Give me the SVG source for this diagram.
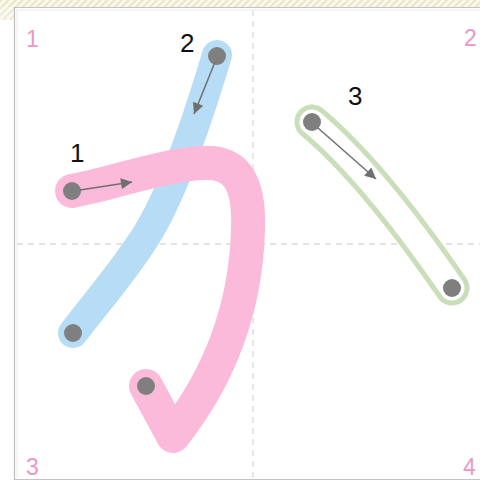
<svg xmlns="http://www.w3.org/2000/svg" width="480" height="481" viewBox="0 0 480 481">
<defs>
<pattern id="stripes" width="5" height="5" patternUnits="userSpaceOnUse" patternTransform="rotate(45)">
<rect width="5" height="5" fill="#fbfaf0"/>
<rect width="2.2" height="5" fill="#e9e6c8"/>
</pattern>
<marker id="ah" viewBox="0 0 10 10" refX="10" refY="5" markerWidth="17" markerHeight="11" markerUnits="userSpaceOnUse" orient="auto">
<path d="M0,0 L10,5 L0,10 z" fill="#6f6f6f"/>
</marker>
<style>
.grid{stroke:#dadada;stroke-width:1.3;stroke-dasharray:6 5;fill:none}
.corner{font-family:"Liberation Sans",Arial,sans-serif;font-size:23px;fill:#ea97c7}
.num{font-family:"Liberation Sans",Arial,sans-serif;font-size:26px;fill:#111}
.dot{fill:#7f7f7f}
.arrow{stroke:#6f6f6f;stroke-width:1.5;fill:none;marker-end:url(#ah)}
.stk{fill:none;stroke-linecap:round;stroke-linejoin:round}
</style>
</defs>
<rect x="0" y="0" width="480" height="481" fill="#ffffff"/>
<rect x="0" y="0" width="480" height="7" fill="url(#stripes)"/>
<rect x="0" y="0" width="14" height="20" fill="url(#stripes)" opacity="0.8"/>
<line x1="14" y1="7.5" x2="480" y2="7.5" stroke="#c4c4c4" stroke-width="1.2"/>
<line x1="16" y1="10" x2="480" y2="10" stroke="#ececec" stroke-width="1"/>
<line x1="14.5" y1="7" x2="14.5" y2="480" stroke="#bdbdbd" stroke-width="1.2"/>
<line x1="17" y1="10" x2="17" y2="478" stroke="#ececec" stroke-width="1"/>
<line x1="14" y1="479.5" x2="480" y2="479.5" stroke="#c4c4c4" stroke-width="1.2"/>
<line class="grid" x1="253" y1="10" x2="253" y2="479"/>
<line class="grid" x1="17" y1="244" x2="480" y2="244"/>
<text class="corner" x="26" y="47">1</text>
<text class="corner" x="464" y="46">2</text>
<text class="corner" x="26" y="475">3</text>
<text class="corner" x="463" y="475">4</text>
<g id="stroke2">
<path class="stk" d="M217,55 C200,112 172,200 140,245 C115,282 92,308 73,333" stroke="#b6dcf6" stroke-width="30"/>
<circle class="dot" cx="217" cy="56" r="9"/>
<circle class="dot" cx="73" cy="333" r="9"/>
<text class="num" x="180" y="52">2</text>
</g>
<g id="stroke1">
<path class="stk" d="M72,191 C110,184 160,166 200,163 C235,160 250,180 248,230 C246,300 225,370 173,436 L146,386" stroke="#fbbad9" stroke-width="34"/>
<circle class="dot" cx="72" cy="191" r="9"/>
<circle class="dot" cx="146" cy="386" r="9"/>
<text class="num" x="70" y="162">1</text>
</g>
<g id="stroke3">
<path class="stk" d="M312,122 Q372,172 452,288" stroke="#cadfb9" stroke-width="35"/>
<path class="stk" d="M312,122 Q372,172 452,288" stroke="#ffffff" stroke-width="25"/>
<circle class="dot" cx="312" cy="122" r="9"/>
<circle class="dot" cx="452" cy="288" r="9"/>
<text class="num" x="348" y="105">3</text>
</g>
<g id="connectors">
<line class="arrow" x1="80" y1="190" x2="132" y2="182"/>
<line class="arrow" x1="215" y1="62" x2="194" y2="114"/>
<line class="arrow" x1="318" y1="128" x2="376" y2="179"/>
</g>
</svg>
